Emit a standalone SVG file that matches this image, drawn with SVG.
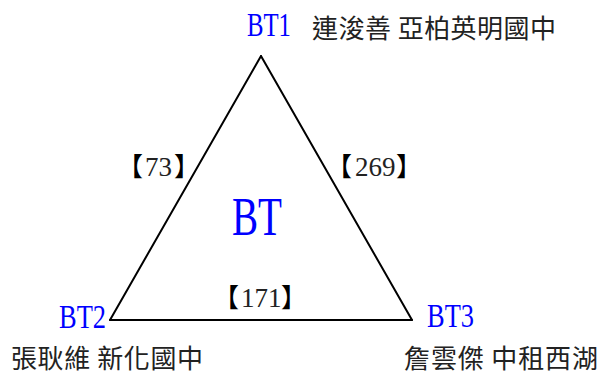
<svg xmlns="http://www.w3.org/2000/svg" width="601" height="376" viewBox="0 0 601 376">
<style>
.bt{font-family:"Liberation Serif",serif;fill:#0000ff}
.cjk{font-family:"Noto Sans CJK TC","Noto Sans CJK SC",sans-serif;font-size:26px;fill:#222}
.num{font-family:"Liberation Serif",serif;font-size:27px;fill:#222}
.br{font-family:"Noto Sans CJK TC","Noto Sans CJK SC",sans-serif;font-size:26px;fill:#000}
.edge{stroke:#000;stroke-width:2;fill:none;stroke-linecap:round}
</style>
<rect width="601" height="376" fill="#fff"/>
<g id="connectors">
  <line class="edge" x1="261" y1="56" x2="110" y2="320"/>
  <line class="edge" x1="261" y1="56" x2="412" y2="320"/>
  <line class="edge" x1="110" y1="320" x2="412" y2="320"/>
  <text id="label-73" y="176"><tspan class="br" x="143" text-anchor="end">【</tspan><tspan class="num" x="145">73</tspan><tspan class="br" x="174">】</tspan></text>
  <text id="label-269" y="176"><tspan class="br" x="352" text-anchor="end">【</tspan><tspan class="num" x="355">269</tspan><tspan class="br" x="396">】</tspan></text>
  <text id="label-171" y="307"><tspan class="br" x="239" text-anchor="end">【</tspan><tspan class="num" x="241">171</tspan><tspan class="br" x="281">】</tspan></text>
</g>
<g id="BT">
  <text class="bt" x="232" y="235" font-size="54" textLength="50" lengthAdjust="spacingAndGlyphs">BT</text>
</g>
<g id="BT1">
  <text class="bt" x="247" y="36" font-size="34" textLength="44" lengthAdjust="spacingAndGlyphs">BT1</text>
  <text class="cjk" x="312" y="38" textLength="244" lengthAdjust="spacing">連浚善 亞柏英明國中</text>
</g>
<g id="BT2">
  <text class="bt" x="59" y="328" font-size="34" textLength="47" lengthAdjust="spacingAndGlyphs">BT2</text>
  <text class="cjk" x="11" y="368" textLength="192" lengthAdjust="spacing">張耿維 新化國中</text>
</g>
<g id="BT3">
  <text class="bt" x="427" y="327" font-size="34" textLength="47" lengthAdjust="spacingAndGlyphs">BT3</text>
  <text class="cjk" x="404" y="368" textLength="194" lengthAdjust="spacing">詹雲傑 中租西湖</text>
</g>
</svg>
